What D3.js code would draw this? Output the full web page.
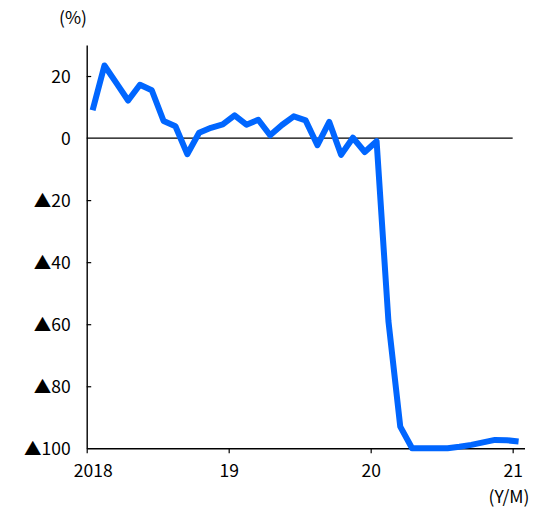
<!DOCTYPE html>
<html>
<head>
<meta charset="utf-8">
<script src="https://cdn.jsdelivr.net/npm/d3@7"></script>
<style>
  html, body { margin: 0; padding: 0; background: #fff; }
  svg { display: block; }
  text { font-family: "Noto Sans CJK JP", "Liberation Sans", sans-serif; font-size: 17.5px; fill: #000; }
</style>
</head>
<body>
<svg id="chart" width="536" height="508"></svg>
<script>
// Monthly year-on-year change (%), Jan 2018 – Jan 2021
const months = [
  "2018/01","2018/02","2018/03","2018/04","2018/05","2018/06","2018/07","2018/08","2018/09","2018/10","2018/11","2018/12",
  "2019/01","2019/02","2019/03","2019/04","2019/05","2019/06","2019/07","2019/08","2019/09","2019/10","2019/11","2019/12",
  "2020/01","2020/02","2020/03","2020/04","2020/05","2020/06","2020/07","2020/08","2020/09","2020/10","2020/11","2020/12",
  "2021/01"
];
const values = [
  9.0, 23.4, 17.8, 12.1, 17.2, 15.4, 5.5, 3.8, -5.2, 1.7, 3.3, 4.4,
  7.3, 4.3, 5.9, 0.9, 4.2, 7.0, 5.7, -2.3, 5.2, -5.4, 0.1, -4.5,
  -1.0, -59.0, -93.0, -100, -100, -100, -100, -99.5, -98.9, -98.1, -97.3, -97.4,
  -97.8
];
const yTicks = [20, 0, -20, -40, -60, -80, -100];
const xTickMonths = [0, 12, 24, 36];
const xTickLabels = ["2018", "19", "20", "21"];

const svg = d3.select("#chart");

// Month index scale: axis runs to the start of Feb 2021; points sit mid-month
const x = d3.scaleLinear().domain([0, 37]).range([86.7, 524.5]);
const y = d3.scaleLinear().domain([-100, 30]).range([448.3, 45]);

const fmtY = v => v < 0 ? "\u25B2" + Math.abs(v) : String(v);

// zero reference line
svg.append("line")
  .attr("x1", x(0)).attr("x2", x(36))
  .attr("y1", y(0)).attr("y2", y(0))
  .attr("stroke", "#000").attr("stroke-width", 1.2);

// y axis, ticks pointing inward
const yAxis = svg.append("g")
  .attr("transform", `translate(${x(0)},0)`)
  .call(d3.axisLeft(y).tickValues(yTicks).tickFormat(fmtY)
    .tickSizeInner(-4.5).tickSizeOuter(0).tickPadding(16));
yAxis.select(".domain").attr("stroke", "#000").attr("stroke-width", 1.4);
yAxis.selectAll(".tick line").attr("stroke", "#000").attr("stroke-width", 1.2)
  .filter(d => d === 0 || d === -100).remove();
yAxis.selectAll(".tick text")
  .attr("font-family", null).attr("font-size", null)
  .attr("dy", "0.36em");

// x axis along the bottom
const xAxis = svg.append("g")
  .attr("transform", `translate(0,${y(-100)})`)
  .call(d3.axisBottom(x).tickValues(xTickMonths)
    .tickFormat((d, i) => xTickLabels[i])
    .tickSizeInner(5).tickSizeOuter(0).tickPadding(11));
xAxis.select(".domain").attr("stroke", "#000").attr("stroke-width", 1.4);
xAxis.selectAll(".tick line").attr("stroke", "#000").attr("stroke-width", 1.2);
xAxis.selectAll(".tick text")
  .attr("font-family", null).attr("font-size", null)
  .attr("dx", (d, i) => i === 0 ? 6 : 0);

// unit labels
svg.append("text").attr("x", 73).attr("y", 23.5).attr("text-anchor", "middle").text("(%)");
svg.append("text").attr("x", 509).attr("y", 503).attr("text-anchor", "middle").text("(Y/M)");

// series line
const line = d3.line()
  .x((d, i) => x(i + 0.5))
  .y(d => y(d));

svg.append("path")
  .datum(values)
  .attr("d", line)
  .attr("fill", "none")
  .attr("stroke", "#0066ff")
  .attr("stroke-width", 6)
  .attr("stroke-linejoin", "round")
  .attr("stroke-linecap", "butt");
</script>
</body>
</html>
